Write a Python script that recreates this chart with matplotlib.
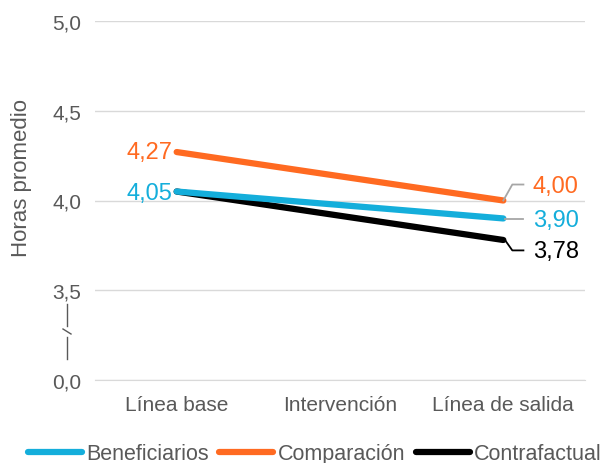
import matplotlib
matplotlib.use("Agg")
import matplotlib.pyplot as plt
from matplotlib.lines import Line2D

categories = ["Línea base", "Intervención", "Línea de salida"]
beneficiarios = [4.05, None, 3.90]
comparacion = [4.27, None, 4.00]
contrafactual = [4.05, None, 3.78]
ytick_vals = [3.0, 3.5, 4.0, 4.5, 5.0]
ytick_labels = ["0,0", "3,5", "4,0", "4,5", "5,0"]

BLUE = "#14AEDB"
ORANGE = "#FF6A21"
BLACK = "#000000"
GRAY = "#595959"
GRID = "#D9D9D9"
LEAD = "#A6A6A6"

plt.rcParams['font.family'] = ['Liberation Sans', 'DejaVu Sans']

fig = plt.figure(figsize=(6.03, 4.64), dpi=100)
ax = fig.add_axes([95/603, 1-381/464, (585-95)/603, (381-22)/464])

xs = [0, 2]
def pts(vals):
    return [vals[0], vals[2]]

LW = 4.5
ax.plot(xs, pts(contrafactual), color=BLACK, lw=LW, solid_capstyle='round', zorder=3)
ax.plot(xs, pts(beneficiarios), color=BLUE, lw=LW, solid_capstyle='round', zorder=4)
ax.plot(xs, pts(comparacion), color=ORANGE, lw=LW, solid_capstyle='round', zorder=5)

ax.set_xlim(-0.5, 2.5)
ax.set_ylim(3.0, 5.0)
ax.set_xticks([0, 1, 2])
ax.set_xticklabels(categories, fontsize=15, color=GRAY)
ax.set_yticks(ytick_vals)
ax.set_yticklabels(ytick_labels, fontsize=15, color=GRAY)
ax.tick_params(axis='x', length=0, pad=11)
ax.tick_params(axis='y', length=0, pad=10)
ax.yaxis.grid(True, color=GRID, lw=1)
ax.set_axisbelow(True)
for s in ax.spines.values():
    s.set_visible(False)
ax.spines['bottom'].set_visible(True)
ax.spines['bottom'].set_color(GRID)

fig.text(22/603, 1-178/464, "Horas promedio", rotation=90, ha='center', va='center',
         fontsize=16, color=GRAY)

fs = 17
def fmt(v):
    return f"{v:.2f}".replace(".", ",")

# left labels
ax.annotate(fmt(comparacion[0]), (0, comparacion[0]), xytext=(-3, 0), textcoords='offset points',
            ha='right', va='center', color=ORANGE, fontsize=fs)
ax.annotate(fmt(beneficiarios[0]), (0, beneficiarios[0]), xytext=(-3, -1), textcoords='offset points',
            ha='right', va='center', color=BLUE, fontsize=fs)

# right labels with leader lines
ax.text(2.18, comparacion[2] + 0.083, fmt(comparacion[2]), ha='left', va='center',
        color=ORANGE, fontsize=fs)
ax.plot([2, 2.055, 2.123], [comparacion[2], comparacion[2] + 0.089, comparacion[2] + 0.089],
        color=LEAD, lw=1.3, zorder=6, clip_on=False)
ax.text(2.18, beneficiarios[2] - 0.011, fmt(beneficiarios[2]), ha='left', va='center',
        color=BLUE, fontsize=fs)
ax.plot([2.01, 2.123], [beneficiarios[2] - 0.005, beneficiarios[2] - 0.005],
        color=LEAD, lw=1.3, zorder=6, clip_on=False)
ax.text(2.18, contrafactual[2] - 0.063, fmt(contrafactual[2]), ha='left', va='center',
        color=BLACK, fontsize=fs)
ax.plot([2.01, 2.055, 2.123], [contrafactual[2], contrafactual[2] - 0.058, contrafactual[2] - 0.058],
        color=BLACK, lw=1.3, zorder=6, clip_on=False)

# axis break symbol
fig.add_artist(Line2D([67/603, 67/603], [1-305/464, 1-327/464], color=GRAY, lw=1))
fig.add_artist(Line2D([63/603, 71/603], [1-330/464, 1-335/464], color=GRAY, lw=1))
fig.add_artist(Line2D([67/603, 67/603], [1-338/464, 1-360/464], color=GRAY, lw=1))

handles = [Line2D([], [], color=BLUE, lw=LW, solid_capstyle='round'),
           Line2D([], [], color=ORANGE, lw=LW, solid_capstyle='round'),
           Line2D([], [], color=BLACK, lw=LW, solid_capstyle='round')]
fig.legend(handles, ["Beneficiarios", "Comparación", "Contrafactual"], loc='center',
           bbox_to_anchor=(0.522, 1-455/464), ncol=3, frameon=False, fontsize=15.5,
           labelcolor=GRAY, handlelength=2.5, handletextpad=0.2, columnspacing=0.5,
           borderpad=0, borderaxespad=0)

fig.savefig("out.png", dpi=100)
